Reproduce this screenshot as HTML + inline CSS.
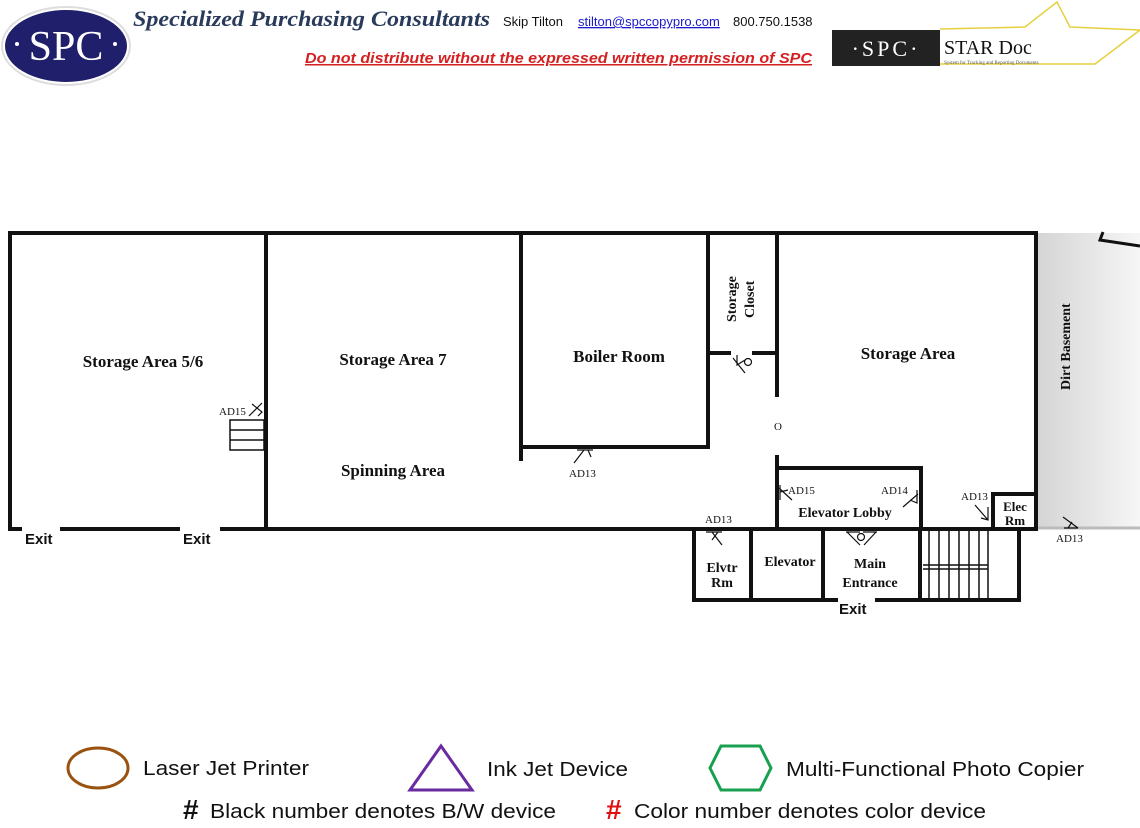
<!DOCTYPE html>
<html><head><meta charset="utf-8"><style>
html,body{margin:0;padding:0;background:#fff;}
svg{display:block;}
.s{font-family:"Liberation Serif",serif;font-weight:bold;fill:#111;}
.a{font-family:"Liberation Serif",serif;fill:#111;font-size:11px;}
.e{font-family:"Liberation Sans",sans-serif;font-weight:bold;fill:#111;font-size:15px;}
.l{font-family:"Liberation Sans",sans-serif;fill:#111;font-size:20px;}
</style></head><body>
<svg width="1140" height="828" viewBox="0 0 1140 828" xmlns="http://www.w3.org/2000/svg">
<defs>
<linearGradient id="g" x1="0" x2="1" y1="0" y2="0">
<stop offset="0" stop-color="#d4d4d4"/><stop offset="1" stop-color="#f6f6f6"/></linearGradient>
</defs>
<!-- header -->
<ellipse cx="66" cy="46" rx="65" ry="40" fill="#ddd"/>
<ellipse cx="66" cy="46" rx="62" ry="37" fill="#1f1f6b" stroke="#fff" stroke-width="2"/>
<text x="66" y="60" text-anchor="middle" font-family="Liberation Serif,serif" font-size="42" fill="#fff">SPC</text>
<circle cx="17" cy="44" r="2" fill="#fff"/><circle cx="115" cy="44" r="2" fill="#fff"/>
<text x="133" y="26" font-family="Liberation Serif,serif" font-style="italic" font-weight="bold" font-size="22" fill="#2a3a5a" textLength="357" lengthAdjust="spacingAndGlyphs">Specialized Purchasing Consultants</text>
<text x="503" y="26" font-family="Liberation Sans,sans-serif" font-size="13" fill="#111">Skip Tilton</text>
<text x="578" y="26" font-family="Liberation Sans,sans-serif" font-size="13" fill="#1a1acc" text-decoration="underline">stilton@spccopypro.com</text>
<text x="733" y="26" font-family="Liberation Sans,sans-serif" font-size="13" fill="#111">800.750.1538</text>
<text x="305" y="63" font-family="Liberation Sans,sans-serif" font-style="italic" font-weight="bold" font-size="15" fill="#d42020" text-decoration="underline" textLength="507" lengthAdjust="spacingAndGlyphs">Do not distribute without the expressed written permission of SPC</text>
<polyline points="940,29 1025,27 1057,2 1070,27 1140,30 1095,64 940,64" fill="#fff" stroke="#e6d040" stroke-width="1.5"/>
<rect x="832" y="30" width="108" height="36" fill="#222"/>
<text x="886" y="56" text-anchor="middle" font-family="Liberation Serif,serif" font-size="22" fill="#fff" letter-spacing="3">·SPC·</text>
<text x="944" y="54" font-family="Liberation Serif,serif" font-size="20" fill="#111">STAR Doc</text>
<text x="944" y="64" font-family="Liberation Serif,serif" font-size="5" fill="#555">System for Tracking and Reporting Documents</text>

<!-- dirt basement -->
<rect x="1036" y="233" width="104" height="296" fill="url(#g)"/>
<polyline points="1103,232 1100,240 1140,246" fill="none" stroke="#111" stroke-width="3"/>
<line x1="1036" y1="528" x2="1140" y2="528" stroke="#bbb" stroke-width="3"/>
<text class="s" font-size="14" transform="translate(1070,390) rotate(-90)">Dirt Basement</text>

<g stroke="#111" stroke-width="4" fill="none">
<rect x="10" y="233" width="1026" height="296"/>
<line x1="266" y1="233" x2="266" y2="529"/>
<line x1="521" y1="233" x2="521" y2="461"/>
<line x1="521" y1="447" x2="710" y2="447"/>
<line x1="708" y1="233" x2="708" y2="449"/>
<line x1="708" y1="353" x2="731" y2="353"/>
<line x1="752" y1="353" x2="777" y2="353"/>
<line x1="777" y1="233" x2="777" y2="397"/>
<line x1="777" y1="455" x2="777" y2="529"/>
<line x1="777" y1="468" x2="921" y2="468"/>
<line x1="921" y1="466" x2="921" y2="529"/>
<polyline points="993,529 993,494 1036,494"/>
<polyline points="694,529 694,600 1019,600 1019,529"/>
<line x1="751" y1="529" x2="751" y2="600"/>
<line x1="823" y1="529" x2="823" y2="600"/>
<line x1="920" y1="529" x2="920" y2="600"/>
</g>
<!-- stairs -->
<g stroke="#111" stroke-width="1.5">
<line x1="923" y1="565" x2="988" y2="565"/>
<line x1="923" y1="569" x2="988" y2="569"/>
<line x1="929" y1="531" x2="929" y2="598"/><line x1="939" y1="531" x2="939" y2="598"/>
<line x1="949" y1="531" x2="949" y2="598"/><line x1="959" y1="531" x2="959" y2="598"/>
<line x1="969" y1="531" x2="969" y2="598"/><line x1="979" y1="531" x2="979" y2="598"/>
<line x1="988" y1="531" x2="988" y2="598"/>
</g>
<g stroke="#111" stroke-width="1.5" fill="#fff">
<rect x="230" y="420" width="34" height="30"/>
<line x1="230" y1="430" x2="264" y2="430"/><line x1="230" y1="440" x2="264" y2="440"/>
</g>
<!-- exit gaps -->
<g stroke="#fff" stroke-width="4">
<line x1="22" y1="529" x2="60" y2="529"/><line x1="180" y1="529" x2="220" y2="529"/>
<line x1="838" y1="600" x2="875" y2="600"/>
</g>

<!-- room labels -->
<text class="s" x="143" y="367" font-size="17" text-anchor="middle">Storage Area 5/6</text>
<text class="s" x="393" y="365" font-size="17" text-anchor="middle">Storage Area 7</text>
<text class="s" x="393" y="476" font-size="17" text-anchor="middle">Spinning Area</text>
<text class="s" x="619" y="362" font-size="17" text-anchor="middle">Boiler Room</text>
<text class="s" x="908" y="359" font-size="17" text-anchor="middle">Storage Area</text>
<text class="s" font-size="14" transform="translate(736,322) rotate(-90)">Storage</text>
<text class="s" font-size="14" transform="translate(754,318) rotate(-90)">Closet</text>
<text class="s" x="845" y="517" font-size="14" text-anchor="middle">Elevator Lobby</text>
<text class="s" x="1015" y="511" font-size="13" text-anchor="middle">Elec</text>
<text class="s" x="1015" y="525" font-size="13" text-anchor="middle">Rm</text>
<text class="s" x="722" y="572" font-size="14" text-anchor="middle">Elvtr</text>
<text class="s" x="722" y="587" font-size="14" text-anchor="middle">Rm</text>
<text class="s" x="790" y="566" font-size="14" text-anchor="middle">Elevator</text>
<text class="s" x="870" y="568" font-size="14" text-anchor="middle">Main</text>
<text class="s" x="870" y="587" font-size="14" text-anchor="middle">Entrance</text>
<text class="e" x="25" y="544">Exit</text>
<text class="e" x="183" y="544">Exit</text>
<text class="e" x="839" y="614">Exit</text>

<!-- device labels & marks -->
<text class="a" x="219" y="415">AD15</text>
<text class="a" x="569" y="477">AD13</text>
<text class="a" x="788" y="494">AD15</text>
<text class="a" x="881" y="494">AD14</text>
<text class="a" x="961" y="500">AD13</text>
<text class="a" x="705" y="523">AD13</text>
<text class="a" x="1056" y="542">AD13</text>
<text class="a" x="774" y="430">O</text>
<g stroke="#111" stroke-width="1.2" fill="none">
<path d="M249 416 L262 403 M252 404 L262 412 L258 416"/>
<path d="M577 450 L593 450 M584 450 L574 463 M588 450 L591 457"/>
<path d="M733 358 L745 373 M737 355 L737 365 L745 360"/><circle cx="748" cy="362" r="3.5"/>
<path d="M779 488 L792 500 M780 485 L780 500 M780 492 L788 490"/>
<path d="M903 507 L918 494 M917 490 L917 503 L910 500"/>
<path d="M975 505 L988 520 M988 507 L988 520 L981 518"/>
<path d="M706 532 L722 532 M712 532 L722 545 M718 532 L712 540"/>
<path d="M846 532 L860 532 M847 532 L860 545 M863 532 L877 532 M876 532 L864 545"/><circle cx="861" cy="537" r="3.5"/>
<path d="M1063 517 L1078 528 M1064 528 L1078 528 M1072 522 L1068 528"/>
</g>

<!-- legend -->
<ellipse cx="98" cy="768" rx="30" ry="20" fill="none" stroke="#9a5210" stroke-width="3"/>
<text class="l" x="143" y="775" textLength="166" lengthAdjust="spacingAndGlyphs">Laser Jet Printer</text>
<polygon points="441,746 410,790 472,790" fill="none" stroke="#6a2aa0" stroke-width="3"/>
<text class="l" x="487" y="776" textLength="141" lengthAdjust="spacingAndGlyphs">Ink Jet Device</text>
<polygon points="721,746 760,746 771,768 760,790 721,790 710,768" fill="none" stroke="#18a050" stroke-width="3"/>
<text class="l" x="786" y="776" textLength="298" lengthAdjust="spacingAndGlyphs">Multi-Functional Photo Copier</text>
<text x="183" y="819" font-family="Liberation Sans,sans-serif" font-weight="bold" font-size="28" fill="#111">#</text>
<text class="l" x="210" y="818" textLength="346" lengthAdjust="spacingAndGlyphs">Black number denotes B/W device</text>
<text x="606" y="819" font-family="Liberation Sans,sans-serif" font-weight="bold" font-size="28" fill="#e01010">#</text>
<text class="l" x="634" y="818" textLength="352" lengthAdjust="spacingAndGlyphs">Color number denotes color device</text>
</svg>
</body></html>
